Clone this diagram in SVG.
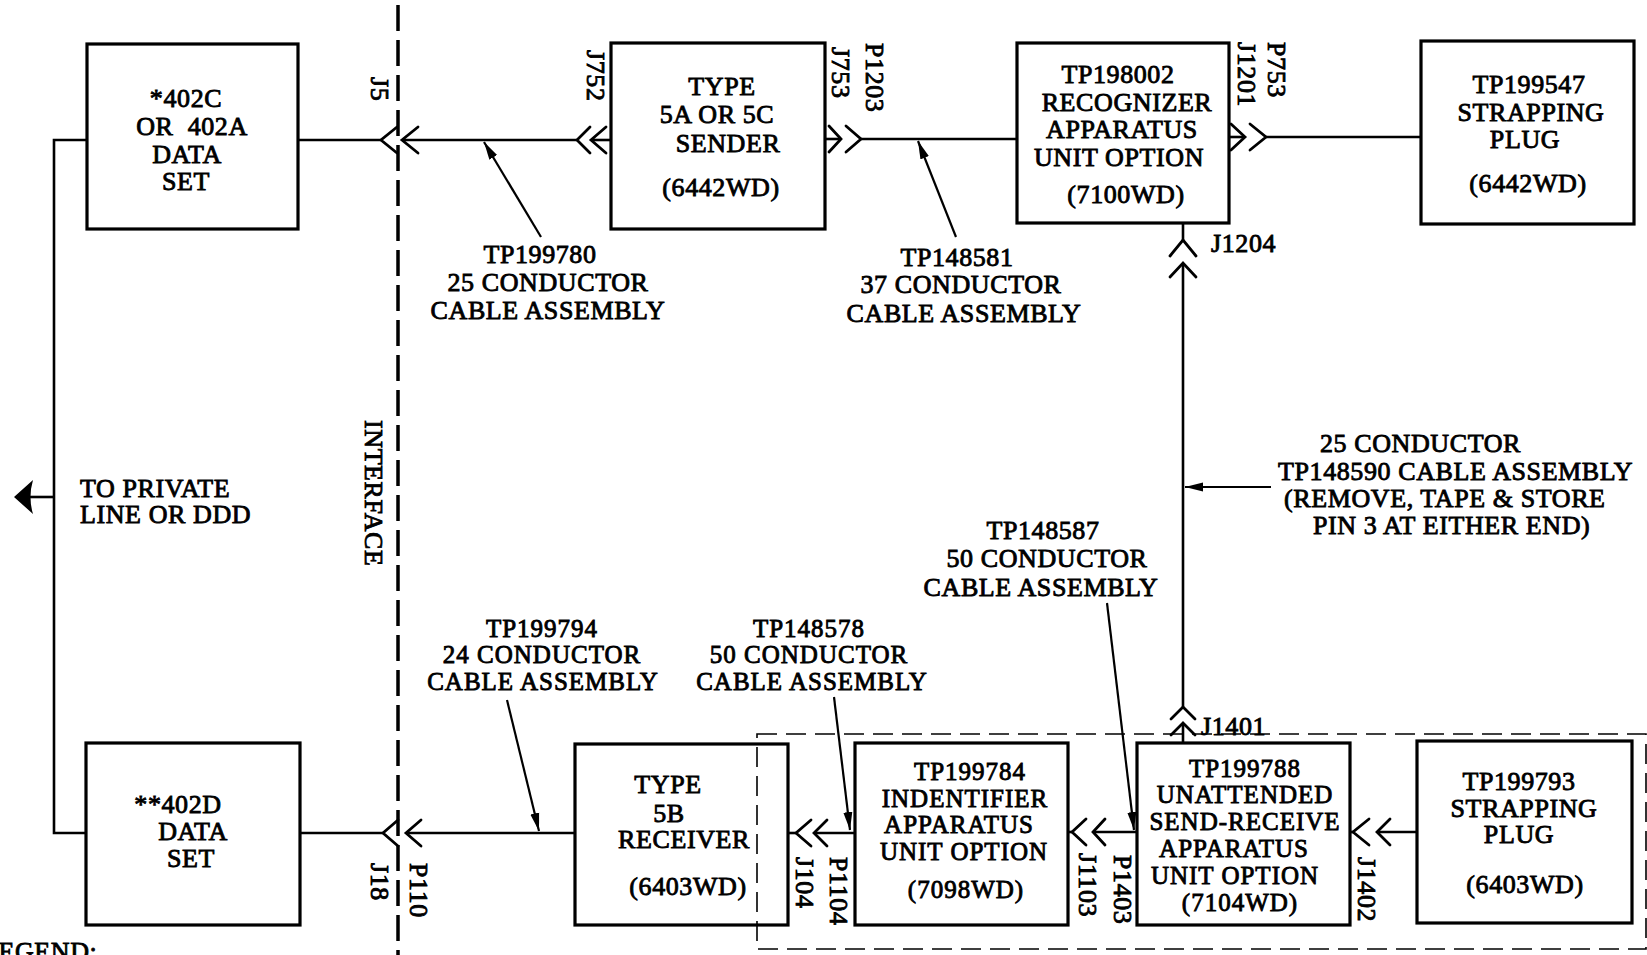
<svg xmlns="http://www.w3.org/2000/svg" width="1647" height="955" viewBox="0 0 1647 955">
<style>
.t{font-family:"Liberation Serif","Times New Roman",serif;font-size:26px;fill:#000;stroke:#000;stroke-width:0.85;letter-spacing:0.6px}
.s{font-size:25px;letter-spacing:1px}
.m{text-anchor:middle}
.box{fill:none;stroke:#000;stroke-width:3.2}
.ln{stroke:#000;stroke-width:2.6;fill:none}
.ch{stroke:#000;stroke-width:2.8;fill:none;stroke-linecap:round}
.ld{stroke:#000;stroke-width:2.2;fill:none;marker-end:url(#ah)}
.dash{stroke:#000;stroke-width:1.6;fill:none;stroke-dasharray:20 9}
.iface{stroke:#000;stroke-width:3.5;stroke-dasharray:26 9}
</style>
<defs>
<marker id="ah" markerUnits="userSpaceOnUse" markerWidth="20" markerHeight="12" refX="18" refY="5" orient="auto">
<path d="M0,0.5 L18,5 L0,9.5 Z" fill="#000"/>
</marker>
</defs>
<rect width="1647" height="955" fill="#fff"/>

<line class="iface" x1="398" y1="5" x2="398" y2="955"/>
<text class="t" transform="translate(365,420) rotate(90)" letter-spacing="1">INTERFACE</text>
<rect class="dash" x="757" y="734" width="889" height="215"/>

<g id="n402C">
<rect class="box" x="87" y="44" width="211" height="185"/>
<text class="t m" x="186" y="107">*402C</text>
<text class="t m" x="192" y="135" xml:space="preserve">OR  402A</text>
<text class="t m" x="187" y="163">DATA</text>
<text class="t m" x="186" y="190">SET</text>
</g>
<g id="n5A">
<rect class="box" x="611" y="43" width="214" height="186"/>
<text class="t m" x="722" y="95">TYPE</text>
<text class="t m" x="717" y="123">5A OR 5C</text>
<text class="t m" x="728" y="152">SENDER</text>
<text class="t m" x="721" y="196">(6442WD)</text>
</g>
<g id="nTP198002">
<rect class="box" x="1017" y="43" width="212" height="180"/>
<text class="t m" x="1118" y="83">TP198002</text>
<text class="t m" x="1127" y="111">RECOGNIZER</text>
<text class="t m" x="1122" y="138">APPARATUS</text>
<text class="t m" x="1119" y="166">UNIT OPTION</text>
<text class="t m" x="1126" y="203">(7100WD)</text>
</g>
<g id="nTP199547">
<rect class="box" x="1421" y="41" width="213" height="183"/>
<text class="t m" x="1529" y="93">TP199547</text>
<text class="t m" x="1531" y="121">STRAPPING</text>
<text class="t m" x="1525" y="148">PLUG</text>
<text class="t m" x="1528" y="192">(6442WD)</text>
</g>
<g id="n402D">
<rect class="box" x="86" y="743" width="214" height="182"/>
<text class="t m" x="178" y="813">**402D</text>
<text class="t m" x="193" y="840">DATA</text>
<text class="t m" x="191" y="867">SET</text>
</g>
<g id="n5B">
<rect class="box" x="575" y="744" width="213" height="181"/>
<text class="t m" x="668" y="793">TYPE</text>
<text class="t m" x="669" y="822">5B</text>
<text class="t m" x="684" y="848">RECEIVER</text>
<text class="t m" x="688" y="895">(6403WD)</text>
</g>
<g id="nTP199784">
<rect class="box" x="855" y="743" width="213" height="182"/>
<text class="t m s" x="970" y="780">TP199784</text>
<text class="t m s" x="965" y="807">INDENTIFIER</text>
<text class="t m s" x="959" y="833">APPARATUS</text>
<text class="t m s" x="964" y="860">UNIT OPTION</text>
<text class="t m s" x="966" y="898">(7098WD)</text>
</g>
<g id="nTP199788">
<rect class="box" x="1137" y="743" width="213" height="182"/>
<text class="t m s" x="1245" y="777">TP199788</text>
<text class="t m s" x="1245" y="803">UNATTENDED</text>
<text class="t m s" x="1245" y="830">SEND-RECEIVE</text>
<text class="t m s" x="1234" y="857">APPARATUS</text>
<text class="t m s" x="1235" y="884">UNIT OPTION</text>
<text class="t m s" x="1240" y="911">(7104WD)</text>
</g>
<g id="nTP199793">
<rect class="box" x="1417" y="741" width="215" height="182"/>
<text class="t m" x="1519" y="790">TP199793</text>
<text class="t m" x="1524" y="817">STRAPPING</text>
<text class="t m" x="1519" y="843">PLUG</text>
<text class="t m" x="1525" y="893">(6403WD)</text>
</g>

<g id="connectors">
<path class="ln" d="M87,140 H54 V833 H86"/>
<path class="ln" d="M54,497 H30"/>
<path d="M14,497 L33,480 Q28,497 33,514 Z" fill="#000"/>
<path class="ln" d="M298,140 H381"/>
<path class="ch" d="M397,127 L381,140 L397,153"/>
<path class="ch" d="M418,127 L402,140 L418,153"/>
<path class="ln" d="M402,140 H577"/>
<path class="ch" d="M590,127 L577,140 L590,153"/>
<path class="ch" d="M606,127 L591,140 L606,153"/>
<path class="ln" d="M591,140 H611"/>
<path class="ln" d="M825,139 H841"/>
<path class="ch" d="M829,126 L841,139 L829,152"/>
<path class="ch" d="M846,126 L861,139 L846,152"/>
<path class="ln" d="M861,139 H1017"/>
<path class="ln" d="M1229,137 H1245"/>
<path class="ch" d="M1231,124 L1245,137 L1231,150"/>
<path class="ch" d="M1250,124 L1266,137 L1250,150"/>
<path class="ln" d="M1266,137 H1421"/>
<path class="ln" d="M1183,223 V240"/>
<path class="ch" d="M1170,256 L1183,240 L1196,256"/>
<path class="ch" d="M1170,277 L1183,263 L1196,277"/>
<path class="ln" d="M1183,263 V707"/>
<path class="ch" d="M1171,719 L1183,707 L1195,719"/>
<path class="ch" d="M1171,735 L1183,723 L1195,735"/>
<path class="ln" d="M1183,723 V743"/>
<path class="ln" d="M300,833 H383"/>
<path class="ch" d="M398,820 L383,833 L398,846"/>
<path class="ch" d="M421,820 L406,833 L421,846"/>
<path class="ln" d="M406,833 H575"/>
<path class="ln" d="M788,833 H796"/>
<path class="ch" d="M811,820 L796,833 L811,846"/>
<path class="ch" d="M827,820 L814,833 L827,846"/>
<path class="ln" d="M814,833 H855"/>
<path class="ln" d="M1068,832 H1072"/>
<path class="ch" d="M1086,819 L1072,832 L1086,845"/>
<path class="ch" d="M1105,819 L1093,832 L1105,845"/>
<path class="ln" d="M1093,832 H1137"/>
<path class="ln" d="M1350,832 H1353"/>
<path class="ch" d="M1369,819 L1353,832 L1369,845"/>
<path class="ch" d="M1390,819 L1377,832 L1390,845"/>
<path class="ln" d="M1377,832 H1417"/>
<line class="ld" x1="541" y1="237" x2="484" y2="142"/>
<line class="ld" x1="956" y1="237" x2="918" y2="141"/>
<line class="ld" x1="507" y1="700" x2="539" y2="831"/>
<line class="ld" x1="834" y1="697" x2="850" y2="830"/>
<line class="ld" x1="1107" y1="603" x2="1134" y2="830"/>
<line class="ld" x1="1271" y1="487" x2="1185" y2="487"/>
</g>

<g id="labels">
<text class="t" transform="translate(371,77) rotate(90)">J5</text>
<text class="t" transform="translate(587,50) rotate(90)">J752</text>
<text class="t" transform="translate(832,47) rotate(90)">J753</text>
<text class="t" transform="translate(866,43) rotate(90)">P1203</text>
<text class="t" transform="translate(1238,42) rotate(90)">J1201</text>
<text class="t" transform="translate(1268,42) rotate(90)">P753</text>
<text class="t" transform="translate(371,863) rotate(90)">J18</text>
<text class="t" transform="translate(410,863) rotate(90)">P110</text>
<text class="t" transform="translate(796,857) rotate(90)">J104</text>
<text class="t" transform="translate(830,857) rotate(90)">P1104</text>
<text class="t" transform="translate(1079,853) rotate(90)">J1103</text>
<text class="t" transform="translate(1114,855) rotate(90)">P1403</text>
<text class="t" transform="translate(1358,857) rotate(90)">J1402</text>
<text class="t" x="1211" y="252">J1204</text>
<text class="t" x="1201" y="735">J1401</text>
<text class="t m" x="540" y="263">TP199780</text>
<text class="t m" x="548" y="291">25 CONDUCTOR</text>
<text class="t m" x="548" y="319">CABLE ASSEMBLY</text>
<text class="t m" x="957" y="266">TP148581</text>
<text class="t m" x="961" y="293">37 CONDUCTOR</text>
<text class="t m" x="964" y="322">CABLE ASSEMBLY</text>
<text class="t m s" x="542" y="637">TP199794</text>
<text class="t m s" x="542" y="663">24 CONDUCTOR</text>
<text class="t m s" x="543" y="690">CABLE ASSEMBLY</text>
<text class="t m s" x="809" y="637">TP148578</text>
<text class="t m s" x="809" y="663">50 CONDUCTOR</text>
<text class="t m s" x="812" y="690">CABLE ASSEMBLY</text>
<text class="t m" x="1043" y="539">TP148587</text>
<text class="t m" x="1047" y="567">50 CONDUCTOR</text>
<text class="t m" x="1041" y="596">CABLE ASSEMBLY</text>
<text class="t" x="1320" y="452">25 CONDUCTOR</text>
<text class="t" x="1278" y="480">TP148590 CABLE ASSEMBLY</text>
<text class="t" x="1284" y="507">(REMOVE, TAPE &amp; STORE</text>
<text class="t" x="1313" y="534">PIN 3 AT EITHER END)</text>
<text class="t" x="80" y="497">TO PRIVATE</text>
<text class="t" x="80" y="523">LINE OR DDD</text>
<text class="t" x="-18" y="960">LEGEND:</text>
</g>
</svg>
